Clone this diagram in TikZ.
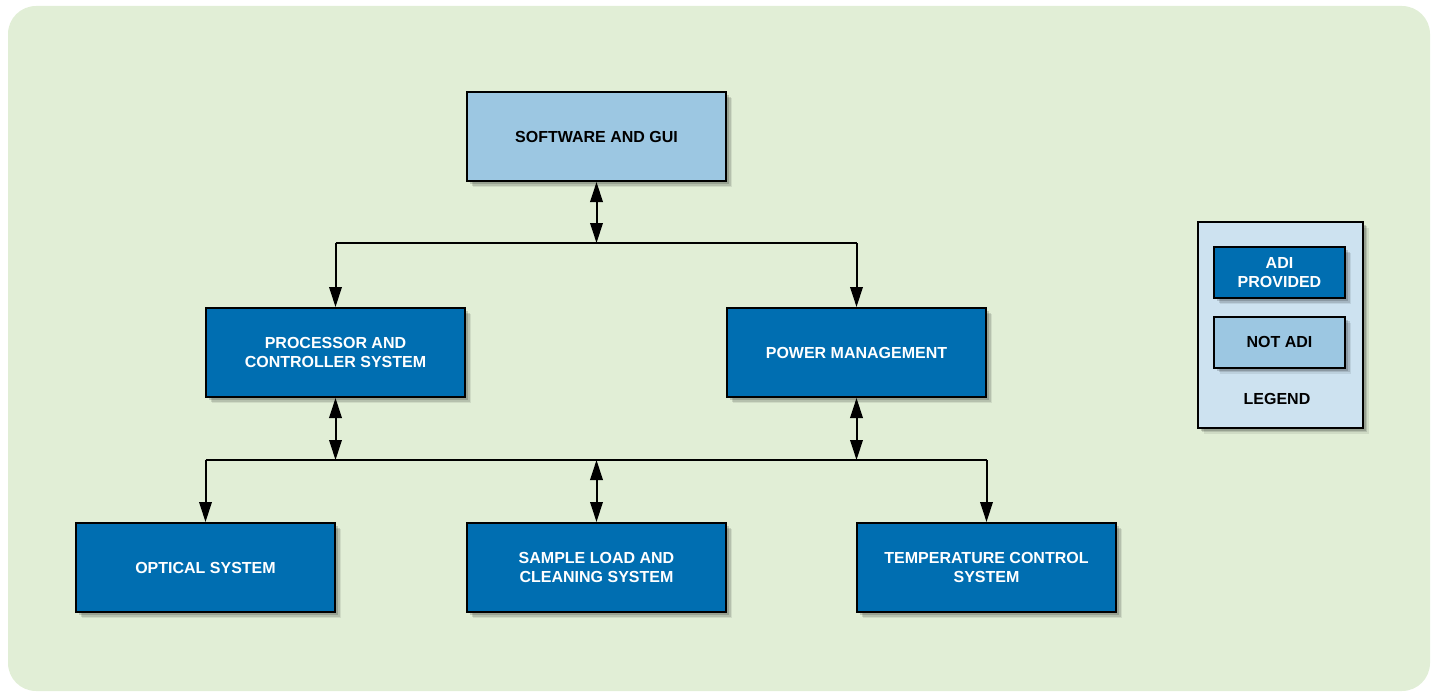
\documentclass[tikz,border=0pt]{standalone}
\usepackage{fontspec}
\setmainfont{Liberation Sans}
\usetikzlibrary{arrows.meta,shadows}
\definecolor{panelgreen}{HTML}{E1EED6}
\definecolor{adiblue}{HTML}{006EB1}
\definecolor{lightblue}{HTML}{9CC7E2}
\definecolor{legendbg}{HTML}{CDE2F0}
\tikzset{
  softshadow/.style={
    preaction={fill=black,opacity=0.08,transform canvas={shift={(6pt,-6pt)}}},
    preaction={fill=black,opacity=0.12,transform canvas={shift={(4.5pt,-4.5pt)}}},
    preaction={fill=black,opacity=0.16,transform canvas={shift={(3pt,-3pt)}}}},
  labelfont/.style={font=\fontsize{16}{19.5}\selectfont\bfseries},
  block/.style={draw=black,line width=2pt,minimum width=259pt,minimum height=89pt,
    align=center,labelfont,softshadow},
  adi/.style={block,fill=adiblue,text=white},
  notadi/.style={block,fill=lightblue,text=black},
  legendkey/.style={draw=black,line width=2pt,minimum width=131pt,minimum height=51pt,
    align=center,labelfont,softshadow},
  tip/.tip={Triangle[length=20pt,width=12.5pt]},
  link/.style={line width=2pt,-tip},
  dlink/.style={line width=2pt,tip-tip},
  bus/.style={line width=2pt}
}
\begin{document}
\begin{tikzpicture}[x=1pt,y=-1pt]
  \useasboundingbox (0,0) rectangle (1437,693);
  % panel
  \fill[panelgreen,rounded corners=28pt] (8,6) rectangle (1430,691);

  % blocks
  \node[notadi] (sw) at (596.5,136.5) {SOFTWARE AND GUI};
  \node[adi] (proc) at (335.5,352.5) {PROCESSOR AND\\CONTROLLER SYSTEM};
  \node[adi] (pwr) at (856.5,352.5) {POWER MANAGEMENT};
  \node[adi] (opt) at (205.5,567.5) {OPTICAL SYSTEM};
  \node[adi] (smp) at (596.5,567.5) {SAMPLE LOAD AND\\CLEANING SYSTEM};
  \node[adi] (tmp) at (986.5,567.5) {TEMPERATURE CONTROL\\SYSTEM};

  % upper bus
  \coordinate (b1l) at (335.5,243);
  \coordinate (b1m) at (596.5,243);
  \coordinate (b1r) at (856.5,243);
  \draw[bus] (b1l) -- (b1r);
  \draw[dlink] (sw.south) -- (b1m);
  \draw[link] (b1l) -- (proc.north);
  \draw[link] (b1r) -- (pwr.north);

  % lower bus
  \coordinate (b2a) at (205.5,460);
  \coordinate (b2b) at (335.5,460);
  \coordinate (b2c) at (596.5,460);
  \coordinate (b2d) at (856.5,460);
  \coordinate (b2e) at (986.5,460);
  \draw[bus] (b2a) -- (b2e);
  \draw[dlink] (proc.south) -- (b2b);
  \draw[dlink] (pwr.south) -- (b2d);
  \draw[dlink] (b2c) -- (smp.north);
  \draw[link] (b2a) -- (opt.north);
  \draw[link] (b2e) -- (tmp.north);

  % legend
  \node[draw=black,line width=2pt,fill=legendbg,minimum width=165pt,minimum height=206pt,softshadow] (leg) at (1280,324.5) {};
  \node[legendkey,fill=adiblue,text=white] (kadi) at (1279.5,272.5) {ADI\\PROVIDED};
  \node[legendkey,fill=lightblue,text=black] (knot) at (1279.5,342) {NOT ADI};
  \node[labelfont] (legt) at (1277,399) {LEGEND};
\end{tikzpicture}
\end{document}
